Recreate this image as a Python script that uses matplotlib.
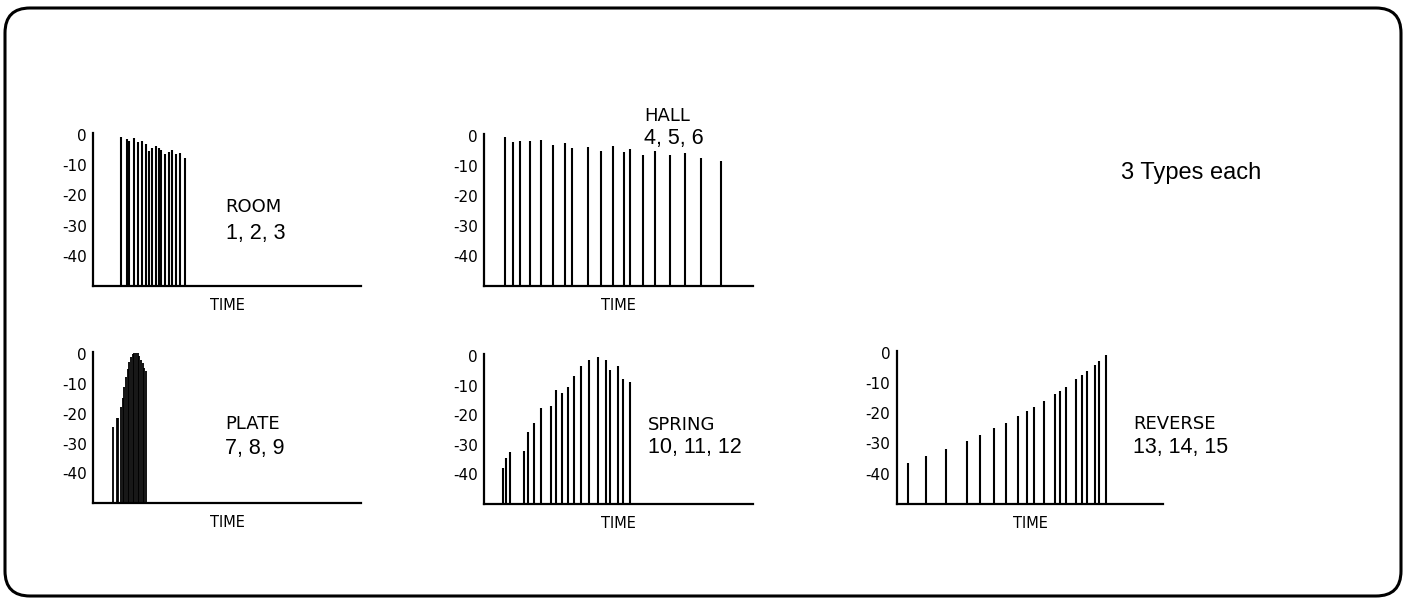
#!/usr/bin/env python

"""
Reverb program impulse sketches: five little decay diagrams
(ROOM, HALL, PLATE, SPRING, REVERSE) inside a rounded frame.
"""

import matplotlib
matplotlib.use("Agg")
import matplotlib.pyplot as plt
from matplotlib.patches import FancyBboxPatch

# --- data: reflection positions (time, px units from y axis) and levels (dB)
room_t = [27.7, 34.3, 35.7, 41, 45, 49, 52.7, 56, 59.3, 63.3, 66, 67.7, 71.7, 75.7, 79.3, 82.7, 87.3, 92]
room_db = [-0.5, -1.4, -1.9, -1.1, -2.2, -1.9, -3.0, -5.2, -4.4, -3.6, -4.4, -4.9, -6.2, -5.5, -4.9, -6.2, -5.8, -7.7]

hall_t = [21, 28.3, 36, 45.3, 56.3, 68.3, 80.7, 87.3, 103.3, 117, 128.7, 140, 145.7, 159, 171, 185.3, 201, 217, 237]
hall_db = [-0.3, -2.0, -1.7, -1.9, -1.4, -3.1, -2.5, -4.2, -3.6, -5.1, -3.4, -5.3, -4.5, -6.4, -5.0, -6.4, -5.8, -7.5, -8.3]

plate_t = [20, 23.3, 25, 27.3, 29.3, 31, 32.7, 34.3, 36, 37.7, 39.3, 41, 42.7, 44.3, 46, 47.7, 49.3, 51, 52.7]
plate_db = [-24.4, -21.4, -21.4, -17.6, -14.8, -10.9, -7.6, -4.9, -2.6, -1.1,
            0.0, 0.5, 0.5, 0.2, -0.7, -2.0, -3.1, -4.8, -5.6]

spring_t = [18.3, 22, 26, 40, 43.7, 50, 57, 66.7, 71.7, 77.7, 83.7, 89.7, 96.7, 105, 113.7, 121.3, 126, 133.3, 139, 145.3]
spring_db = [-38, -34.5, -32.5, -32, -25.6, -22.5, -17.7, -16.8, -11.5, -12.4, -10.5, -6.9, -3.3, -1.3, -0.4, -1.3, -4.6, -3.3, -7.7, -8.8]

reverse_t = [11, 29.7, 49, 70, 83.3, 97.7, 109, 121, 130, 137.3, 147.7, 158, 163.3, 169.3, 179, 185, 190, 198.3, 202.7, 209.3]
reverse_db = [-36.5, -34.1, -31.9, -29.2, -27.3, -24.9, -23.2, -21.0, -19.3, -17.9, -15.9, -13.5, -12.6, -11.3, -8.8, -7.4, -6.1, -3.9, -2.8, -0.8]

tick_vals = [0, -10, -20, -30, -40]
tick_labels = ["0", "-10", "-20", "-30", "-40"]

names = ["ROOM", "HALL", "PLATE", "SPRING", "REVERSE"]
numbers = ["1, 2, 3", "4, 5, 6", "7, 8, 9", "10, 11, 12", "13, 14, 15"]
note = "3 Types each"

FW, FH = 1408, 600
YMIN, YMAX = -50, 0.7


def add_panel(fig, x0, w, y_zero, y_base, t, db, lw=1.5):
    # place axes so that 0 dB / -50 dB land on the given pixel rows
    scale = (y_base - y_zero) / 50.0
    top = y_zero - YMAX * scale
    ax = fig.add_axes([x0 / FW, 1 - y_base / FH, w / FW, (y_base - top) / FH])
    ax.vlines(t, YMIN, db, colors="black", linewidth=lw)
    ax.set_xlim(0, w)
    ax.set_ylim(YMIN, YMAX)
    for s in ("top", "right"):
        ax.spines[s].set_visible(False)
    for s in ("left", "bottom"):
        ax.spines[s].set_linewidth(1.6)
    ax.set_xticks([])
    ax.set_yticks(tick_vals)
    ax.set_yticklabels(tick_labels, fontsize=11, family="DejaVu Sans")
    ax.tick_params(axis="y", length=0, pad=4.5)
    ax.patch.set_alpha(0)
    return ax


fig = plt.figure(figsize=(FW / 100, FH / 100), dpi=100)

# overlay in pixel coordinates for frame and free text
ov = fig.add_axes([0, 0, 1, 1])
ov.set_xlim(0, FW)
ov.set_ylim(FH, 0)
ov.axis("off")
ov.add_patch(FancyBboxPatch((5, 8), 1396, 588, boxstyle="round,pad=0,rounding_size=25",
                            fill=False, edgecolor="black", linewidth=2.2))

# (x0, width, y of 0 dB, y of baseline, line width) in pixels
panels = [
    (93, 268, 135, 286, room_t, room_db, 1.5),
    (484.3, 268.4, 135.7, 286, hall_t, hall_db, 1.5),
    (93.3, 268, 354, 503.3, plate_t, plate_db, 1.3),
    (484.3, 268.4, 356, 504, spring_t, spring_db, 1.5),
    (896.7, 266.7, 352.7, 504, reverse_t, reverse_db, 1.5),
]
for x0, w, yz, yb, t, db, lw in panels:
    add_panel(fig, x0, w, yz, yb, t, db, lw)
    ov.text(x0 + w / 2, yb + 19.5, "TIME", ha="center", va="center",
            fontsize=10.5, family="DejaVu Sans")

# name / program number labels (left x, baseline of name, baseline of numbers)
label_pos = [
    (225.7, 211.7, 239.3),
    (644, 120.7, 144),
    (225, 429.3, 454.3),
    (648.3, 430, 453.3),
    (1133.3, 429, 453.3),
]
for (x, yn, yd), name, num in zip(label_pos, names, numbers):
    ov.text(x, yn, name, ha="left", va="baseline", fontsize=13, family="DejaVu Sans")
    ov.text(x, yd, num, ha="left", va="baseline", fontsize=15.5, family="Liberation Sans")

ov.text(1120.7, 179, note, ha="left", va="baseline", fontsize=17, family="Liberation Sans")

plt.savefig("out.png", dpi=100)
